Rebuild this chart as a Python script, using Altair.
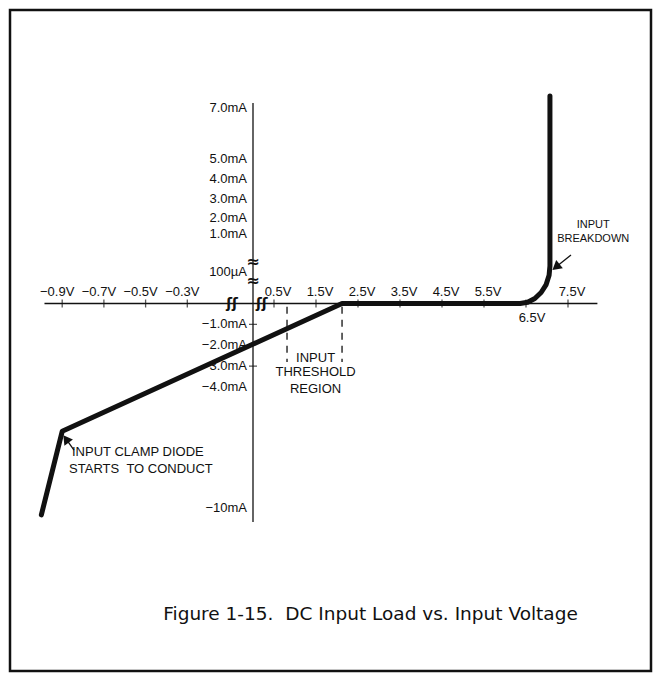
import altair as alt
import pandas as pd

# ---- values (input voltage in V, input current in mA) ----
curve_v = [-1.0, -0.9, 2.12, 6.36, 6.54, 6.71, 6.86, 6.98, 7.05, 7.07, 7.07]
curve_ma = [-10.35, -6.2, 0.0, 0.0, 0.004, 0.016, 0.035, 0.06, 0.09, 0.24, 7.47]

neg_tick_v = [-0.9, -0.7, -0.5, -0.3]
neg_tick_labels = ["\u22120.9V", "\u22120.7V", "\u22120.5V", "\u22120.3V"]
pos_tick_v = [0.5, 1.5, 2.5, 3.5, 4.5, 5.5, 7.5]
pos_tick_labels = ["0.5V", "1.5V", "2.5V", "3.5V", "4.5V", "5.5V", "7.5V"]
low_tick_v = [6.5]
low_tick_labels = ["6.5V"]

y_label_ma = [7, 5, 4, 3, 2, 1, 0.1, -1, -2, -3, -4, -10]
y_labels = ["7.0mA", "5.0mA", "4.0mA", "3.0mA", "2.0mA", "1.0mA", "100\u00b5A",
            "\u22121.0mA", "\u22122.0mA", "\u22123.0mA", "\u22124.0mA", "\u221210mA"]
y_tick_ma = [-1, -3]

axis_x_extent = [-0.985, 8.2]
axis_y_extent = [-10.7, 7.2]
x_break_v = [-0.0875, 0.207]
y_break_ma = [0.34, 0.071]

threshold_v = [0.81, 2.12]
threshold_ma = [-0.15, -2.8]

# annotations: text, voltage, current
clamp_text = ["INPUT CLAMP DIODE", "STARTS\u00a0\u00a0TO CONDUCT"]
clamp_v = [-0.853, -0.867]
clamp_ma = [-7.21, -8.09]
thresh_text = ["INPUT", "THRESHOLD", "REGION"]
thresh_v = [1.49, 1.49, 1.49]
thresh_ma = [-2.61, -3.28, -4.1]
brk_text = ["INPUT", "BREAKDOWN"]
brk_v = [8.1, 8.1]
brk_ma = [1.56, 0.88]

# arrows: tail (v, mA) -> head (v, mA), head angle
arrow_tail_v = [-0.8434, 7.571]
arrow_tail_ma = [-7.13, 0.503]
arrow_head_v = [-0.8818, 7.214]
arrow_head_ma = [-6.58, 0.218]
arrow_angle = [324, 231]

TITLE = "Figure 1-15.\u00a0\u00a0DC Input Load vs. Input Voltage"

# ---- broken (piecewise) scales as in the original drawing ----
O = 10  # page offset of the plot origin (8px margin + 2px padding)
xs = alt.Scale(domain=[-1.2, -0.9, -0.1, 0, 8.5],
               range=[r - O for r in [-0.35, 62.2, 229, 253, 610]], nice=False, zero=False)
ys = alt.Scale(domain=[-11, -4, 0, 0.1, 1, 2, 3, 4, 5, 7, 8],
               range=[r - O for r in [528, 387, 303.5, 272, 234, 218, 199, 179, 159, 108, 82.5]],
               nice=False, zero=False)

FONT = "Liberation Sans"
INK = "#111111"


def X(f):
    return alt.X(f, type="quantitative", scale=xs, axis=None)


def Y(f):
    return alt.Y(f, type="quantitative", scale=ys, axis=None)


curve_df = pd.DataFrame({"v": curve_v, "ma": curve_ma, "i": range(len(curve_v))})

# axes
x_axis = alt.Chart(pd.DataFrame({"a": [axis_x_extent[0]], "b": [axis_x_extent[1]], "y": [0]})).mark_rule(
    color=INK, strokeWidth=1.3).encode(x=X("a"), x2="b", y=Y("y"))
y_axis = alt.Chart(pd.DataFrame({"a": [axis_y_extent[0]], "b": [axis_y_extent[1]], "x": [0]})).mark_rule(
    color=INK, strokeWidth=1.3).encode(y=Y("a"), y2="b", x=X("x"))

xt = alt.Chart(pd.DataFrame({"v": neg_tick_v + pos_tick_v + low_tick_v,
                             "y": [0] * (len(neg_tick_v) + len(pos_tick_v) + len(low_tick_v))})).mark_tick(
    orient="vertical", size=8, thickness=1.3, color=INK).encode(x=X("v"), y=Y("y"))
yt = alt.Chart(pd.DataFrame({"ma": y_tick_ma, "x": [0] * len(y_tick_ma)})).mark_tick(
    orient="horizontal", size=8, thickness=1.3, color=INK).encode(x=X("x"), y=Y("ma"))

thresh_rules = alt.Chart(pd.DataFrame({"v": threshold_v, "a": [threshold_ma[0]] * 2,
                                       "b": [threshold_ma[1]] * 2})).mark_rule(
    color=INK, strokeWidth=1.3, strokeDash=[7, 6]).encode(x=X("v"), y=Y("a"), y2="b")

curve = alt.Chart(curve_df).mark_line(color=INK, strokeWidth=5, strokeCap="round",
                                      strokeJoin="round").encode(
    x=X("v"), y=Y("ma"), order="i:Q")


def labels(vals, texts, dx, dy, align="center"):
    df = pd.DataFrame({"v": vals, "t": texts, "y": [0] * len(vals)})
    return alt.Chart(df).mark_text(font=FONT, fontSize=13, color=INK, dx=dx, dy=dy,
                                   align=align, baseline="middle").encode(
        x=X("v"), y=Y("y"), text="t:N")


neg_lab = labels(neg_tick_v, neg_tick_labels, -5, -12)
pos_lab = labels(pos_tick_v, pos_tick_labels, 4, -12)
low_lab = labels(low_tick_v, low_tick_labels, 6, 14)

y_lab = alt.Chart(pd.DataFrame({"ma": y_label_ma, "t": y_labels, "x": [0] * len(y_label_ma)})).mark_text(
    font=FONT, fontSize=13, color=INK, align="right", baseline="middle", dx=-6).encode(
    x=X("x"), y=Y("ma"), text="t:N")

xb = alt.Chart(pd.DataFrame({"v": x_break_v, "y": [0, 0], "t": ["\u0283\u0283", "\u0283\u0283"]})).mark_text(
    font="DejaVu Sans", fontSize=14, fontWeight="bold", color=INK, baseline="middle").encode(
    x=X("v"), y=Y("y"), text="t:N")
yb = alt.Chart(pd.DataFrame({"ma": y_break_ma, "x": [0, 0], "t": ["\u2248", "\u2248"]})).mark_text(
    font="DejaVu Sans", fontSize=16, fontWeight="bold", color=INK, baseline="middle").encode(
    x=X("x"), y=Y("ma"), text="t:N")


def note(vals, mas, texts, align, size=13):
    df = pd.DataFrame({"v": vals, "ma": mas, "t": texts})
    return alt.Chart(df).mark_text(font=FONT, fontSize=size, color=INK, align=align,
                                   baseline="middle").encode(x=X("v"), y=Y("ma"), text="t:N")


clamp_note = note(clamp_v, clamp_ma, clamp_text, "left")
thresh_note = note(thresh_v, thresh_ma, thresh_text, "center")
brk_note = note(brk_v, brk_ma, brk_text, "center", size=11)

arrow_df = pd.DataFrame({"tv": arrow_tail_v, "tm": arrow_tail_ma, "hv": arrow_head_v,
                         "hm": arrow_head_ma, "ang": arrow_angle})
arrow_shaft = alt.Chart(arrow_df).mark_rule(color=INK, strokeWidth=1.3).encode(
    x=X("tv"), y=Y("tm"), x2="hv", y2="hm")
arrow_head = alt.Chart(arrow_df).mark_point(shape="triangle-up", filled=True, size=110,
                                            color=INK, opacity=1).encode(
    x=X("hv"), y=Y("hm"), angle=alt.Angle("ang:Q", scale=None))

chart = alt.layer(
    x_axis, y_axis, xt, yt, thresh_rules, curve,
    neg_lab, pos_lab, low_lab, y_lab, xb, yb,
    clamp_note, thresh_note, brk_note, arrow_shaft, arrow_head,
).properties(
    width=641, height=661,
    autosize=alt.AutoSizeParams(type="none"),
    padding=2,
    title=alt.TitleParams(TITLE, orient="bottom", anchor="middle", offset=0, dy=-66, dx=40,
                          font="DejaVu Sans", fontSize=18.5, fontWeight="normal", color=INK),
).configure(
    background="white",
    view=alt.ViewConfig(stroke=INK, strokeWidth=2.5),
)

chart.save("out.html", embed_options={"renderer": "svg", "actions": False})
